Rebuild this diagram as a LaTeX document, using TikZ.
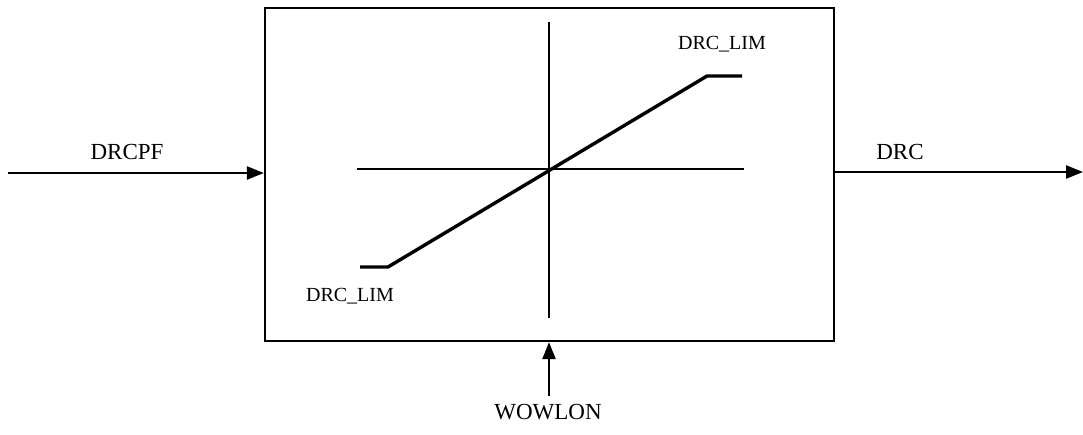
\documentclass[tikz,border=0pt]{standalone}
\usepackage{fontspec}
\setmainfont{Liberation Serif}
\usetikzlibrary{arrows.meta}
\begin{document}
\begin{tikzpicture}[x=1pt,y=-1pt,
  lbl/.style={inner sep=0pt,font=\fontsize{23}{23}\selectfont},
  lim/.style={inner sep=0pt,font=\fontsize{20}{20}\selectfont},
  sig/.style={line width=2.2pt,-{Triangle[length=17pt,width=13pt]}},
  axis/.style={line width=2pt},
  curve/.style={line width=3.4pt}]
\useasboundingbox (0,0) rectangle (1083,434);
\node[draw,line width=2.2pt,minimum width=569pt,minimum height=333pt,inner sep=0pt] (box) at (549.5,174.5) {};
% axes
\coordinate (vt) at (549,22);
\coordinate (vb) at (549,318);
\coordinate (hl) at (357,169);
\coordinate (hr) at (744,169);
\draw[axis] (vt) -- (vb);
\draw[axis] (hl) -- (hr);
% limiter curve
\coordinate (l0) at (360,267);
\coordinate (l1) at (388,267);
\coordinate (u1) at (707,76);
\coordinate (u0) at (742,76);
\draw[curve] (l0) -- (l1) -- (u1) -- (u0);
\node[lim] (limlo) at (350,296) {DRC\_LIM};
\node[lim] (limhi) at (722,44) {DRC\_LIM};
% signals
\coordinate (in) at (8,173);
\draw[sig] (in) -- (in -| box.west);
\node[lbl] (drcpf) at (127,152) {DRCPF};
\coordinate (out) at (1083,172);
\draw[sig] (out -| box.east) -- (out);
\node[lbl] (drc) at (900,152) {DRC};
\coordinate (wb) at (549,396);
\draw[sig] (wb) -- (wb |- box.south);
\node[lbl] (wow) at (548,412) {WOWLON};
\end{tikzpicture}
\end{document}
